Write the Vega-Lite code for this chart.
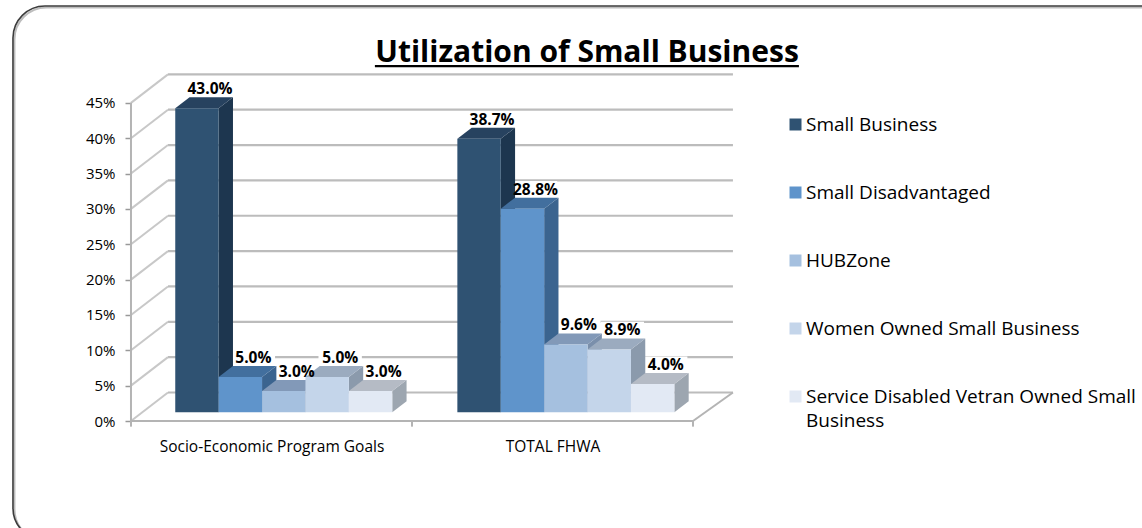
{
"$schema":"https://vega.github.io/schema/vega-lite/v6.json",
"width":1142,"height":528,"padding":0,"autosize":{"type":"none"},
"background":"white",
"title":{"text":"Utilization of Small Business","font":"Open Sans","fontWeight":"bold","fontSize":30,"color":"#000000","anchor":"middle","frame":"group","baseline":"alphabetic","offset":0,"dx":16,"dy":92},
"config":{"view":{"stroke":null},"axis":{"labelFont":"Open Sans","labelColor":"#000000","grid":false,"domain":false,"title":null}},
"datasets":{
"frame":[{"a":-2.719,"b":30,"t":58.7,"u":-16.83}],
"shadow":[{"a":-2.685,"b":30,"t":58.5,"u":-17}],
"ticks":[{"pct":0},{"pct":5},{"pct":10},{"pct":15},{"pct":20},{"pct":25},{"pct":30},{"pct":35},{"pct":40},{"pct":45}],
"edges":[{"a":0,"p":0,"b":0,"q":45},{"a":0,"p":0,"b":12.95,"q":0},{"a":12.95,"p":0,"b":13.87,"q":4.03},{"a":0,"p":0,"b":0,"q":-0.8},{"a":6.475,"p":0,"b":6.475,"q":-0.8},{"a":12.95,"p":0,"b":12.95,"q":-0.8}],
"underline":[{"a":5.62,"b":15.39,"p":50.2}]
},
"data":{"values":[
{"category":"Socio-Economic Program Goals","series":"Small Business","value":43.0},
{"category":"Socio-Economic Program Goals","series":"Small Disadvantaged","value":5.0},
{"category":"Socio-Economic Program Goals","series":"HUBZone","value":3.0},
{"category":"Socio-Economic Program Goals","series":"Women Owned Small Business","value":5.0},
{"category":"Socio-Economic Program Goals","series":"Service Disabled Vetran Owned Small Business","value":3.0},
{"category":"TOTAL FHWA","series":"Small Business","value":38.7},
{"category":"TOTAL FHWA","series":"Small Disadvantaged","value":28.8},
{"category":"TOTAL FHWA","series":"HUBZone","value":9.6},
{"category":"TOTAL FHWA","series":"Women Owned Small Business","value":8.9},
{"category":"TOTAL FHWA","series":"Service Disabled Vetran Owned Small Business","value":4.0}
]},
"transform":[
{"calculate":"(datum.category=='TOTAL FHWA'?6.5:0)+indexof(['Small Business','Small Disadvantaged','HUBZone','Women Owned Small Business','Service Disabled Vetran Owned Small Business'],datum.series)+1.02","as":"s"},
{"calculate":"datum.s+1","as":"s1"},
{"calculate":"datum.value+1.23","as":"v"}
],
"resolve":{"scale":{"color":"independent"}},
"layer":[
{"data":{"name":"shadow"},"mark":{"type":"rect","clip":true,"fill":null,"stroke":"#bdbdbd","strokeWidth":2,"cornerRadius":32},
 "encoding":{
 "x":{"field":"a","type":"quantitative","scale":{"domain":[-3.018,23.295],"nice":false,"zero":false},
   "axis":{"orient":"bottom","offset":-93,"values":[3.2375,9.7125],"labelExpr":"datum.value<5?'Socio-Economic Program Goals':'TOTAL FHWA'","ticks":false,"labelPadding":4,"labelFontSize":15.5,"labelFlush":false,"labelLimit":400}},
 "x2":{"field":"b"},
 "y":{"field":"t","type":"quantitative","scale":{"domain":[-15.134,59.547],"nice":false,"zero":false},
   "axis":{"orient":"left","offset":-131,"values":[0,5,10,15,20,25,30,35,40,45],"labelExpr":"datum.value+'%'","tickColor":"#999999","tickSize":6,"tickWidth":1.5,"labelPadding":10,"labelFontSize":15}},
 "y2":{"field":"u"}}},
{"data":{"name":"frame"},"mark":{"type":"rect","clip":true,"fill":null,"stroke":"#3c3c3c","strokeWidth":1.6,"cornerRadius":32},
 "encoding":{"x":{"field":"a","type":"quantitative"},"x2":{"field":"b"},"y":{"field":"t","type":"quantitative"},"y2":{"field":"u"}}},
{"data":{"name":"ticks"},"transform":[{"calculate":"datum.pct+4.03","as":"yb"}],
 "mark":{"type":"rule","stroke":"#bcbcbc","strokeWidth":2.2},
 "encoding":{"x":{"datum":0.8525,"type":"quantitative"},"x2":{"datum":13.87},"y":{"field":"yb","type":"quantitative"}}},
{"data":{"name":"ticks"},"transform":[{"calculate":"datum.pct+4.03","as":"yb"}],
 "mark":{"type":"rule","stroke":"#c8c8c8","strokeWidth":2},
 "encoding":{"x":{"datum":0,"type":"quantitative"},"x2":{"datum":0.8525},"y":{"field":"pct","type":"quantitative"},"y2":{"field":"yb"}}},
{"data":{"name":"edges"},"mark":{"type":"rule","stroke":"#b4b4b4","strokeWidth":2},
 "encoding":{"x":{"field":"a","type":"quantitative"},"x2":{"field":"b"},"y":{"field":"p","type":"quantitative"},"y2":{"field":"q"}}},
{"data":{"name":"underline"},"mark":{"type":"rule","stroke":"#000000","strokeWidth":2.2},
 "encoding":{"x":{"field":"a","type":"quantitative"},"x2":{"field":"b"},"y":{"field":"p","type":"quantitative"}}},
{"transform":[{"calculate":"datum.s+0.3","as":"la"},{"calculate":"datum.s+1.3","as":"lb"},{"calculate":"datum.v+1.7","as":"lo"},{"calculate":"datum.v+3.9","as":"hi"}],
 "mark":{"type":"rect","fill":"#ffffff"},
 "encoding":{"x":{"field":"la","type":"quantitative"},"x2":{"field":"lb"},"y":{"field":"lo","type":"quantitative"},"y2":{"field":"hi"}}},
{"transform":[
 {"calculate":"[datum.s1,datum.s1+0.33]","as":"px"},
 {"calculate":"[datum.v,datum.v+1.556]","as":"py"},
 {"calculate":"[1.23,2.786]","as":"py2"},
 {"flatten":["px","py","py2"]}],
 "mark":{"type":"area","orient":"vertical"},
 "encoding":{"x":{"field":"px","type":"quantitative"},"y":{"field":"py","type":"quantitative","stack":null},"y2":{"field":"py2"},
 "detail":{"field":"category"},
 "color":{"field":"series","type":"nominal","legend":null,"scale":{"domain":["Small Business","Small Disadvantaged","HUBZone","Women Owned Small Business","Service Disabled Vetran Owned Small Business"],"range":["#1d364f","#3b648f","#7a8fab","#8b9aac","#9da6b0"]}}}},
{"transform":[
 {"calculate":"[datum.s,datum.s+0.33,datum.s1,datum.s1+0.33]","as":"px"},
 {"calculate":"[datum.v,datum.v+1.556,datum.v+1.556,datum.v+1.556]","as":"py"},
 {"calculate":"[datum.v,datum.v,datum.v,datum.v+1.556]","as":"py2"},
 {"flatten":["px","py","py2"]}],
 "mark":{"type":"area","orient":"vertical"},
 "encoding":{"x":{"field":"px","type":"quantitative"},"y":{"field":"py","type":"quantitative","stack":null},"y2":{"field":"py2"},
 "detail":{"field":"category"},
 "color":{"field":"series","type":"nominal","legend":null,"scale":{"domain":["Small Business","Small Disadvantaged","HUBZone","Women Owned Small Business","Service Disabled Vetran Owned Small Business"],"range":["#27425f","#426f9e","#8299b8","#9babbf","#b5bbc5"]}}}},
{"transform":[{"calculate":"1.23","as":"base"}],
 "mark":{"type":"rect"},
 "encoding":{"x":{"field":"s","type":"quantitative"},"x2":{"field":"s1"},"y":{"field":"v","type":"quantitative"},"y2":{"field":"base"},
 "color":{"field":"series","type":"nominal","sort":null,"scale":{"domain":["Small Business","Small Disadvantaged","HUBZone","Women Owned Small Business","Service Disabled Vetran Owned Small Business"],"range":["#2f5272","#5f94cb","#a5c0df","#c4d5ea","#e2e9f4"]},
 "legend":{"title":null,"orient":"none","legendX":786,"legendY":115,"padding":0,"symbolType":"square","symbolSize":144,"symbolStrokeWidth":0,"labelFont":"Open Sans","labelFontSize":19,"labelColor":"#000000","labelOffset":1,"labelLimit":400,"rowPadding":48,"labelExpr":"datum.label=='Service Disabled Vetran Owned Small Business'?['Service Disabled Vetran Owned Small','Business']:datum.label","encoding":{"labels":{"lineHeight":{"value":24}}}}}}},
{"transform":[{"calculate":"datum.s+0.8","as":"tx"},{"calculate":"datum.v+1.556","as":"ty"},{"calculate":"format(datum.value,'.1f')+'%'","as":"lab"}],
 "mark":{"type":"text","font":"Open Sans","fontWeight":"bold","fontSize":15.5,"color":"#000000","baseline":"bottom","dy":0},
 "encoding":{"x":{"field":"tx","type":"quantitative"},"y":{"field":"ty","type":"quantitative"},"text":{"field":"lab"}}}
]
}
